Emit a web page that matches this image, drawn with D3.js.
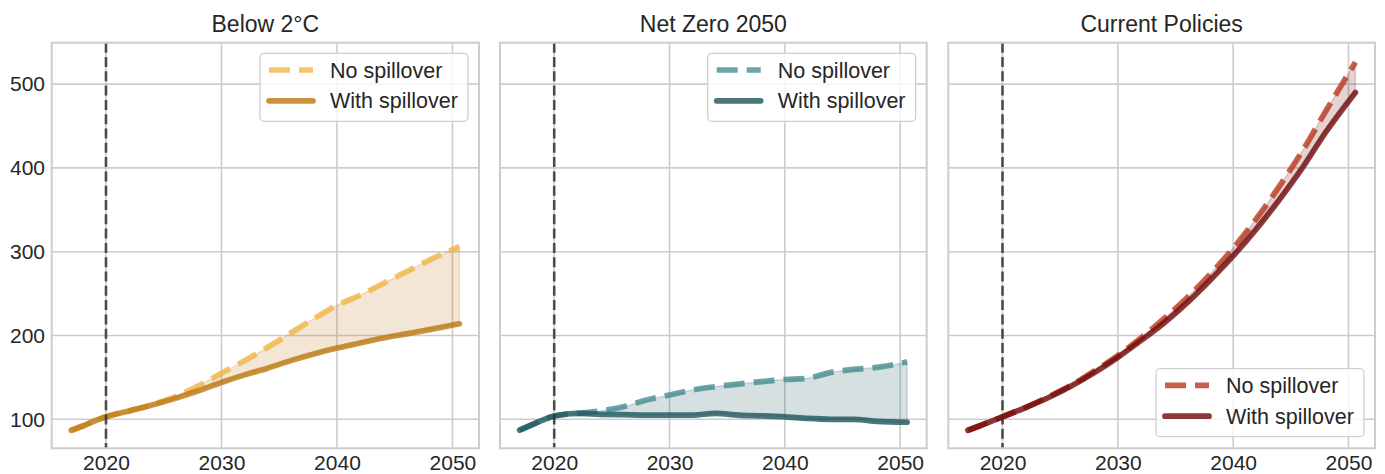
<!DOCTYPE html>
<html>
<head>
<meta charset="utf-8">
<script src="https://cdn.jsdelivr.net/npm/d3@7"></script>
<style>
  html, body { margin: 0; padding: 0; background: #ffffff; }
  svg { display: block; font-family: "Liberation Sans", Arial, sans-serif; }
</style>
</head>
<body>
<svg id="chart" width="1385" height="474"></svg>
<script>
// ---------- data ----------
const years = [2017, 2018, 2019, 2020, 2022, 2024, 2026, 2028, 2030, 2032, 2034, 2036, 2038, 2040, 2042, 2044, 2046, 2048, 2050.6];

const below2NoSpill   = [87, 92, 98, 103, 110, 117.5, 127, 140, 155, 170, 186, 203, 220, 236, 248, 262, 276, 290, 306];
const below2WithSpill = [87, 92, 98, 103, 110, 117, 125, 134, 144, 153, 161, 170, 178, 185, 191, 197, 202, 207, 214];

const netZeroNoSpill   = [87, 93, 99, 104, 107, 110, 115, 123, 129, 135, 139, 142, 145, 147.5, 149, 156, 159.5, 162, 168.5];
const netZeroWithSpill = [87, 93, 99, 104, 107, 106, 105.5, 105, 105, 105, 107, 105, 104, 103, 101, 100, 100, 97.5, 96.5];

const currentNoSpill   = [87, 92, 97.5, 103, 114, 127, 141, 158, 176, 197, 220, 245, 273, 304, 339, 378, 420, 467, 526];
const currentWithSpill = [87, 92, 97.5, 103, 114, 126, 140, 156, 174, 194, 215, 239, 266, 295, 327, 362, 400, 442, 490];

const panelTitles = ["Below 2°C", "Net Zero 2050", "Current Policies"];
const seriesLabels = ["No spillover", "With spillover"];
const xTicks = [2020, 2030, 2040, 2050];
const yTicks = [100, 200, 300, 400, 500];
const refYear = 2020;

// ---------- styling / layout ----------
const panels = [
  { title: panelTitles[0], no: below2NoSpill,  with: below2WithSpill,  left: 51.7,  right: 479,   dashCol: "#f1b545", solidCol: "#ba7710", legend: "top" },
  { title: panelTitles[1], no: netZeroNoSpill, with: netZeroWithSpill, left: 500,   right: 926.7, dashCol: "#458c92", solidCol: "#1d555a", legend: "top" },
  { title: panelTitles[2], no: currentNoSpill, with: currentWithSpill, left: 948.3, right: 1375,  dashCol: "#ba381d", solidCol: "#6e0909", legend: "bottom" }
];
const plotTop = 42.7, plotBottom = 448.3;
const gridCol = "#cccccc";
const textCol = "#262626";

const svg = d3.select("#chart");
svg.append("rect").attr("width", 1385).attr("height", 474).attr("fill", "#fff");

const y = d3.scaleLinear().domain([65.4, 549.4]).range([plotBottom, plotTop]);

panels.forEach((p, i) => {
  const x = d3.scaleLinear().domain([2015.3, 2052.3]).range([p.left, p.right]);
  const g = svg.append("g");
  const clipId = "clip" + i;
  svg.append("clipPath").attr("id", clipId).append("rect")
    .attr("x", p.left).attr("y", plotTop).attr("width", p.right - p.left).attr("height", plotBottom - plotTop);

  // grid
  g.selectAll(".gx").data(xTicks).join("line")
    .attr("x1", d => x(d)).attr("x2", d => x(d)).attr("y1", plotTop).attr("y2", plotBottom)
    .attr("stroke", gridCol).attr("stroke-width", 1.6);
  g.selectAll(".gy").data(yTicks).join("line")
    .attr("y1", d => y(d)).attr("y2", d => y(d)).attr("x1", p.left).attr("x2", p.right)
    .attr("stroke", gridCol).attr("stroke-width", 1.6);

  const pts = years.map((yr, k) => ({ x: yr, no: p.no[k], w: p.with[k] }));
  const plot = g.append("g").attr("clip-path", `url(#${clipId})`);

  // fill between
  const area = d3.area().x(d => x(d.x)).y0(d => y(d.w)).y1(d => y(d.no)).curve(d3.curveMonotoneX);
  plot.append("path").datum(pts).attr("d", area)
    .attr("fill", p.solidCol).attr("fill-opacity", 0.18)
    .attr("stroke", p.solidCol).attr("stroke-opacity", 0.18).attr("stroke-width", 1.5);

  const lineNo = d3.line().x(d => x(d.x)).y(d => y(d.no)).curve(d3.curveMonotoneX);
  const lineW = d3.line().x(d => x(d.x)).y(d => y(d.w)).curve(d3.curveMonotoneX);

  plot.append("path").datum(pts).attr("d", lineNo)
    .attr("fill", "none").attr("stroke", p.dashCol).attr("stroke-opacity", 0.8)
    .attr("stroke-width", 5.7).attr("stroke-dasharray", "21,9").attr("stroke-linecap", "butt");
  plot.append("path").datum(pts).attr("d", lineW)
    .attr("fill", "none").attr("stroke", p.solidCol).attr("stroke-opacity", 0.8)
    .attr("stroke-width", 5.7).attr("stroke-linecap", "round").attr("stroke-linejoin", "round");

  // reference vertical line
  plot.append("line")
    .attr("x1", x(refYear)).attr("x2", x(refYear)).attr("y1", plotTop).attr("y2", plotBottom)
    .attr("stroke", "#333333").attr("stroke-opacity", 0.85).attr("stroke-width", 2.6)
    .attr("stroke-dasharray", "10,4.3");

  // spines
  g.append("rect").attr("x", p.left).attr("y", plotTop).attr("width", p.right - p.left).attr("height", plotBottom - plotTop)
    .attr("fill", "none").attr("stroke", gridCol).attr("stroke-width", 2);

  // x axis labels
  const xAxis = d3.axisBottom(x).tickValues(xTicks).tickSize(0).tickPadding(6.5).tickFormat(d3.format("d"));
  const xg = g.append("g").attr("transform", `translate(0,${plotBottom})`).call(xAxis);
  xg.select(".domain").remove();
  xg.selectAll("text").attr("fill", textCol).style("font-size", "21px")
    .style("font-family", '"Liberation Sans", Arial, sans-serif');

  if (i === 0) {
    const yAxis = d3.axisLeft(y).tickValues(yTicks).tickSize(0).tickPadding(6.7).tickFormat(d3.format("d"));
    const yg = g.append("g").attr("transform", `translate(${p.left},0)`).call(yAxis);
    yg.select(".domain").remove();
    yg.selectAll("text").attr("fill", textCol).style("font-size", "21px")
      .style("font-family", '"Liberation Sans", Arial, sans-serif');
  }

  // title
  g.append("text").attr("x", (p.left + p.right) / 2).attr("y", 31.7)
    .attr("text-anchor", "middle").attr("fill", textCol).style("font-size", "23px").text(p.title);

  // legend
  const lw = 208, lh = 68;
  const lx = p.right - 11 - lw;
  const ly = p.legend === "top" ? plotTop + 10.6 : plotBottom - 11.6 - lh;
  const lg = g.append("g");
  lg.append("rect").attr("x", lx).attr("y", ly).attr("width", lw).attr("height", lh).attr("rx", 4)
    .attr("fill", "#ffffff").attr("fill-opacity", 0.8).attr("stroke", "#d0d0d0").attr("stroke-width", 1.3);
  const rows = [
    { label: seriesLabels[0], col: p.dashCol, dash: "21,9", cap: "butt", cy: ly + 16.7 },
    { label: seriesLabels[1], col: p.solidCol, dash: null, cap: "round", cy: ly + 47.5 }
  ];
  rows.forEach(r => {
    lg.append("line").attr("x1", lx + 9).attr("x2", lx + 53).attr("y1", r.cy).attr("y2", r.cy)
      .attr("stroke", r.col).attr("stroke-opacity", 0.8).attr("stroke-width", 5.7)
      .attr("stroke-linecap", r.cap).attr("stroke-dasharray", r.dash);
    lg.append("text").attr("x", lx + 70).attr("y", r.cy).attr("dy", "0.35em")
      .attr("fill", textCol).style("font-size", "21.5px").text(r.label);
  });
});
</script>
</body>
</html>
